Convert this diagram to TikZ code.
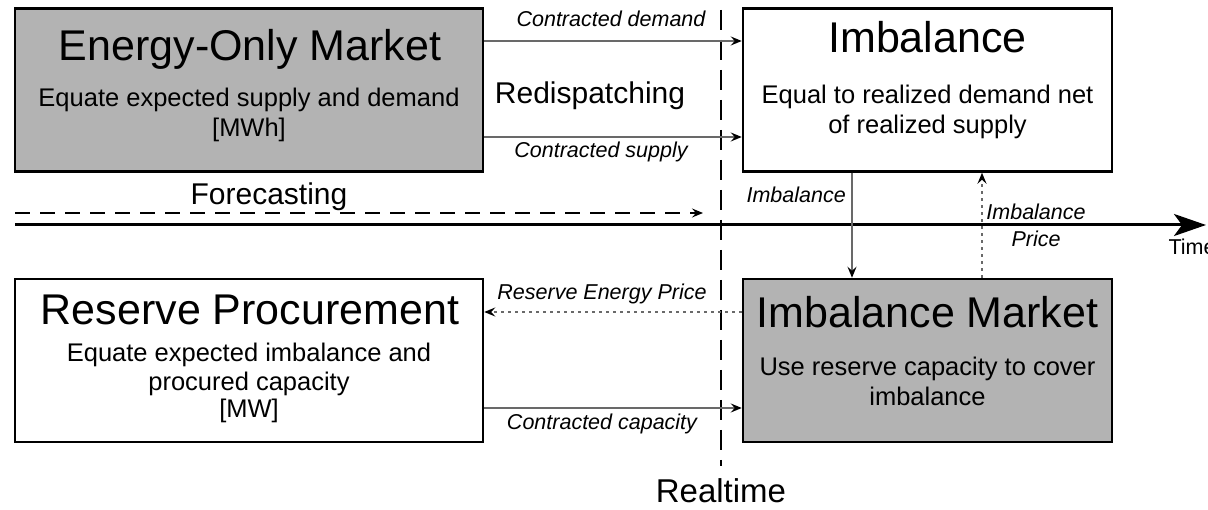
\documentclass[tikz,border=0pt]{standalone}
\usepackage{fontspec}
\setmainfont{Liberation Sans}
\usepackage{tikz}
\usetikzlibrary{arrows.meta}
\usetikzlibrary{positioning}

\definecolor{boxgrey}{RGB}{179,179,179}
\definecolor{linkgrey}{RGB}{105,105,105}

\tikzset{
  block/.style={draw=black, line width=2.5pt, inner sep=0pt},
  leftblock/.style={block, minimum width=468pt, minimum height=163pt},
  rightblock/.style={block, minimum width=369pt, minimum height=163pt},
  greyfill/.style={fill=boxgrey},
  blocktitle/.style={font=\fontsize{43}{48}\selectfont, anchor=base},
  blocktext/.style={font=\fontsize{25.5}{30}\selectfont, align=center, anchor=base},
  flowlabel/.style={font=\fontsize{21.5}{27}\selectfont\itshape, anchor=base},
  biglabel/.style={font=\fontsize{30}{34}\selectfont, anchor=base},
  flowtip/.style={-{Stealth[length=11pt,width=9pt,inset=4pt,color=black]}},
  flow/.style={draw=linkgrey, line width=1.5pt, flowtip},
  priceflow/.style={flow, dash pattern=on 3pt off 4pt},
  forecast/.style={draw=black, line width=1.5pt, dash pattern=on 15pt off 10pt, flowtip},
  nowline/.style={draw=black, line width=2pt, dash pattern=on 20pt off 10pt},
  timeaxis/.style={draw=black, line width=3pt, -{Stealth[length=32pt,width=22pt,inset=8pt]}}
}

\begin{document}
\begin{tikzpicture}[x=1pt,y=-1pt]
  \useasboundingbox (0,0) rectangle (1208,510);

  % time axis, forecasting and realtime
  \coordinate (axisstart) at (15,225);
  \coordinate (axisend) at (1206,225);
  \draw[timeaxis] (axisstart) -- (axisend);
  \node[font=\fontsize{21.5}{25}\selectfont, anchor=base west] (timelabel) at (1165,255) {Time};
  \coordinate (forestart) at (15,213);
  \coordinate (foreend) at (703,213);
  \draw[forecast] (forestart) -- (foreend);
  \node[biglabel] (forelabel) at (269,205) {Forecasting};
  \coordinate (nowtop) at (721,10);
  \coordinate (nowbottom) at (721,466);
  \draw[nowline] (nowtop) -- (nowbottom);
  \node[biglabel, font=\fontsize{33}{36}\selectfont] (realtime) at (721,503) {Realtime};

  % the four blocks (multi-line texts sit on their last baseline)
  \node[leftblock, greyfill] (eom) at (249,90) {};
  \node[blocktitle] (eomtitle) at (250,61) {Energy-Only Market};
  \node[blocktext] (eomtext) at (249,137) {Equate expected supply and demand\\{[MWh]}};

  \node[rightblock] (imb) at (927.5,90) {};
  \node[blocktitle] (imbtitle) at (927.5,53) {Imbalance};
  \node[blocktext] (imbtext) at (927.5,134) {Equal to realized demand net\\of realized supply};

  \node[leftblock] (rp) at (249,360.5) {};
  \node[blocktitle] (rptitle) at (250,325) {Reserve Procurement};
  \node[blocktext, font=\fontsize{25.5}{28}\selectfont] (rptext) at (249,418) {Equate expected imbalance and\\procured capacity\\{[MW]}};

  \node[rightblock, greyfill] (imbm) at (927.5,360.5) {};
  \node[blocktitle] (imbmtitle) at (927.5,328) {Imbalance Market};
  \node[blocktext] (imbmtext) at (927.5,406) {Use reserve capacity to cover\\imbalance};

  % flows between blocks
  \draw[flow] ([yshift=49pt]eom.east) -- ([yshift=49pt]imb.west);
  \node[flowlabel] (demandlabel) at (611,27) {Contracted demand};
  \node[biglabel] (redispatch) at (590,104) {Redispatching};
  \draw[flow] ([yshift=-47pt]eom.east) -- ([yshift=-47pt]imb.west);
  \node[flowlabel] (supplylabel) at (601,158) {Contracted supply};

  \draw[flow] ([xshift=-75.5pt]imb.south) -- ([xshift=-75.5pt]imbm.north);
  \node[flowlabel, anchor=base west] (imblabel) at (743,203) {Imbalance};
  \draw[priceflow] ([xshift=54.5pt]imbm.north) -- ([xshift=54.5pt]imb.south);
  \node[flowlabel, align=center] (pricelabel) at (1036,247) {Imbalance\\Price};

  \draw[priceflow] ([yshift=48.5pt]imbm.west) -- ([yshift=48.5pt]rp.east);
  \node[flowlabel] (reservelabel) at (602,300) {Reserve Energy Price};
  \draw[flow] ([yshift=-47.5pt]rp.east) -- ([yshift=-47.5pt]imbm.west);
  \node[flowlabel] (capacitylabel) at (602,430) {Contracted capacity};
\end{tikzpicture}
\end{document}
